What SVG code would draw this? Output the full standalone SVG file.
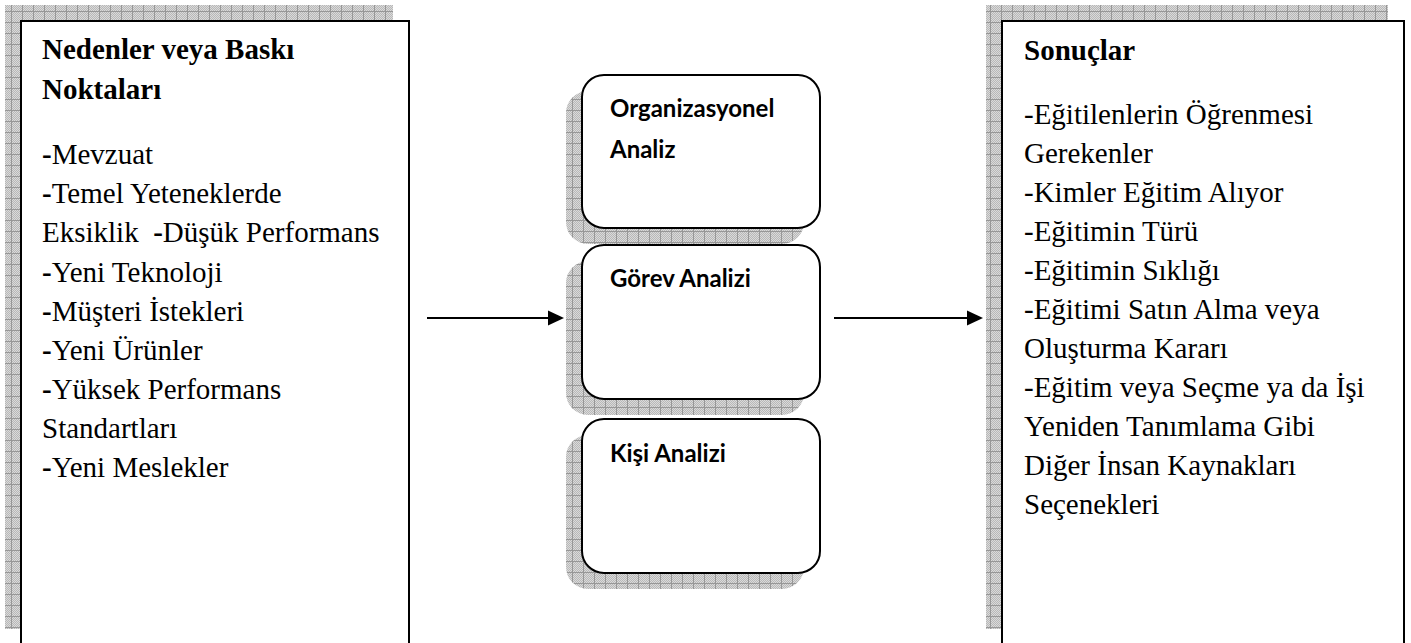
<svg xmlns="http://www.w3.org/2000/svg" width="1411" height="643" viewBox="0 0 1411 643">
<defs>
<pattern id="dots" width="2" height="2" patternUnits="userSpaceOnUse"><rect width="2" height="2" fill="#dadada"/><rect width="1" height="1" fill="#b8b8b8"/><rect x="1" y="1" width="1" height="1" fill="#b8b8b8"/></pattern>
<pattern id="grid" width="11" height="11" patternUnits="userSpaceOnUse"><rect width="11" height="11" fill="url(#dots)"/><path d="M0 0.5H11M0.5 0V11" stroke="#979797" stroke-width="1"/></pattern>
<marker id="arrow" markerWidth="16" markerHeight="16" viewBox="0 0 16 16" refX="6" refY="8" orient="auto" markerUnits="userSpaceOnUse"><path d="M0 0.5L16 8L0 15.5z" fill="#000"/></marker>
</defs>
<style>
.shadow{fill:url(#grid)}
.box{fill:#fff;stroke:#000;stroke-width:2}
.serif{font-family:"Liberation Serif","Times New Roman",serif;font-size:29px;fill:#000}
.b{font-weight:bold}
.sans{font-family:Lato,"Open Sans",sans-serif;font-weight:bold;font-size:24px;fill:#000}
.conn{stroke:#000;stroke-width:2;fill:none;marker-end:url(#arrow)}
</style>
<rect width="1411" height="643" fill="#fff"/>
<g id="node-nedenler">
<rect class="shadow" x="5" y="5" width="388" height="624"/>
<rect class="box" x="21" y="21" width="388" height="630"/>
<text class="serif b" x="42" y="59">Nedenler veya Baskı</text>
<text class="serif b" x="42" y="99">Noktaları</text>
<text class="serif" x="42" y="164"><tspan class="b">-</tspan>Mevzuat</text>
<text class="serif" x="42" y="203"><tspan class="b">-</tspan>Temel Yeteneklerde</text>
<text class="serif" x="42" y="242" xml:space="preserve">Eksiklik  <tspan class="b">-</tspan>Düşük Performans</text>
<text class="serif" x="42" y="282"><tspan class="b">-</tspan>Yeni Teknoloji</text>
<text class="serif" x="42" y="321"><tspan class="b">-</tspan>Müşteri İstekleri</text>
<text class="serif" x="42" y="360"><tspan class="b">-</tspan>Yeni Ürünler</text>
<text class="serif" x="42" y="399"><tspan class="b">-</tspan>Yüksek Performans</text>
<text class="serif" x="42" y="438">Standartları</text>
<text class="serif" x="42" y="477"><tspan class="b">-</tspan>Yeni Meslekler</text>
</g>
<g id="node-org">
<rect class="shadow" x="566" y="91" width="238" height="153" rx="22"/>
<rect class="box" x="582" y="75" width="238" height="153" rx="22"/>
<text class="sans" x="610" y="117">Organizasyonel</text>
<text class="sans" x="610" y="158">Analiz</text>
</g>
<g id="node-gorev">
<rect class="shadow" x="566" y="261" width="238" height="154" rx="22"/>
<rect class="box" x="582" y="245" width="238" height="154" rx="22"/>
<text class="sans" x="610" y="287">Görev Analizi</text>
</g>
<g id="node-kisi">
<rect class="shadow" x="566" y="435" width="238" height="154" rx="22"/>
<rect class="box" x="582" y="419" width="238" height="154" rx="22"/>
<text class="sans" x="610" y="462">Kişi Analizi</text>
</g>
<g id="node-sonuclar">
<rect class="shadow" x="986" y="5" width="402" height="624"/>
<rect class="box" x="1002" y="21" width="402" height="630"/>
<text class="serif b" x="1024" y="60">Sonuçlar</text>
<text class="serif" x="1024" y="124">-Eğitilenlerin Öğrenmesi</text>
<text class="serif" x="1024" y="163">Gerekenler</text>
<text class="serif" x="1024" y="202">-Kimler Eğitim Alıyor</text>
<text class="serif" x="1024" y="241">-Eğitimin Türü</text>
<text class="serif" x="1024" y="280">-Eğitimin Sıklığı</text>
<text class="serif" x="1024" y="319">-Eğitimi Satın Alma veya</text>
<text class="serif" x="1024" y="358">Oluşturma Kararı</text>
<text class="serif" x="1024" y="397">-Eğitim veya Seçme ya da İşi</text>
<text class="serif" x="1024" y="436">Yeniden Tanımlama Gibi</text>
<text class="serif" x="1024" y="475">Diğer İnsan Kaynakları</text>
<text class="serif" x="1024" y="514">Seçenekleri</text>
</g>
<g id="connectors">
<path class="conn" d="M427 318H554"/>
<path class="conn" d="M834 318H973"/>
</g>
</svg>
